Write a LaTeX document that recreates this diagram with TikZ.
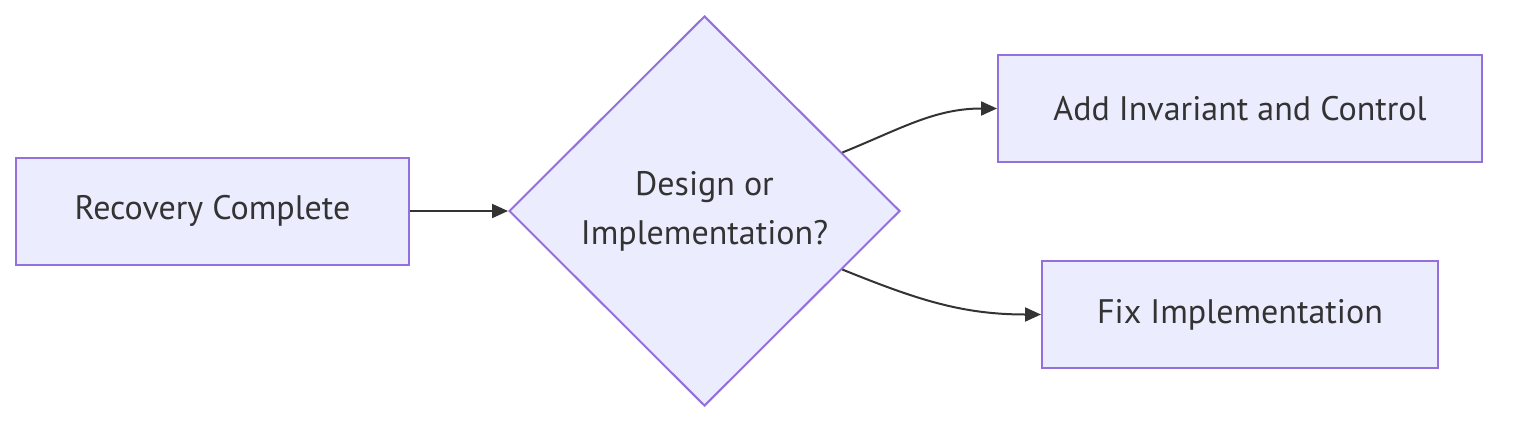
\documentclass[tikz,border=0pt]{standalone}
\usepackage{fontspec}
\setmainfont{PT Sans}
\usetikzlibrary{shapes.geometric,arrows.meta}
\definecolor{boxfill}{HTML}{ECECFF}
\definecolor{boxline}{HTML}{9370DB}
\definecolor{ink}{HTML}{333333}

\begin{document}
\begin{tikzpicture}[x=0.5pt,y=-0.5pt,
    font=\fontsize{17}{24.5}\selectfont, text=ink,
    proc/.style={draw=boxline,fill=boxfill,line width=1pt,rectangle,
      minimum height=53.5pt,inner sep=0pt,align=center},
    decide/.style={draw=boxline,fill=boxfill,line width=1pt,diamond,
      minimum width=195.5pt,minimum height=195pt,inner sep=0pt,align=center},
    flow/.style={draw=ink,line width=1pt,-{Triangle[length=8pt,width=7pt]}}]
    \useasboundingbox (0,0) rectangle (1514,428);
    \node[proc,minimum width=196.5pt] (done) at (212.5,211) {Recovery Complete};
    \node[decide] (kind) at (704.5,211) {Design or\\Implementation?};
    \node[proc,minimum width=242pt] (inv) at (1240,108.5) {Add Invariant and Control};
    \node[proc,minimum width=198pt] (fix) at (1240,314.5) {Fix Implementation};
    \draw[flow] (done.east) -- (kind.west);
    \draw[flow] (kind.23) to[out=22,in=180] (inv.west);
    \draw[flow] (kind.-23) to[out=-22,in=180] (fix.west);
\end{tikzpicture}
\end{document}
